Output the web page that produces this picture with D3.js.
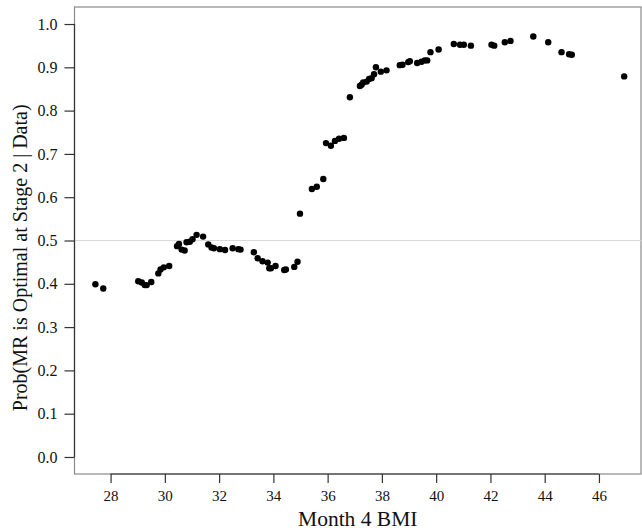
<!DOCTYPE html>
<html>
<head>
<meta charset="utf-8">
<script src="https://cdn.jsdelivr.net/npm/d3@7"></script>
<style>
  html, body { margin: 0; padding: 0; background: #fff; }
  svg text { font-family: "Liberation Serif", "DejaVu Serif", serif; fill: #111; }
</style>
</head>
<body>
<svg id="chart" width="642" height="532"></svg>
<script>
// Month 4 BMI values
const bmi = [
  27.44, 27.73, 29.02, 29.15, 29.26, 29.33, 29.50, 29.76, 29.84, 29.96,
  30.16, 30.45, 30.52, 30.62, 30.73, 30.80, 30.92, 31.02, 31.17, 31.41,
  31.60, 31.72, 31.81, 32.03, 32.22, 32.50, 32.71, 32.79, 33.28, 33.42,
  33.60, 33.79, 33.85, 33.91, 34.08, 34.40, 34.46, 34.77, 34.89, 34.98,
  35.42, 35.60, 35.84, 35.94, 36.12, 36.27, 36.42, 36.60, 36.82, 37.19,
  37.25, 37.31, 37.44, 37.53, 37.62, 37.71, 37.78, 37.96, 38.17, 38.66,
  38.76, 38.97, 39.03, 39.30, 39.46, 39.58, 39.67, 39.79, 40.09, 40.65,
  40.88, 41.02, 41.28, 42.04, 42.14, 42.53, 42.74, 43.58, 44.13, 44.62,
  44.90, 45.00, 46.93
];

// Posterior probability that MR is optimal at stage 2
const probMR = [
  0.399, 0.389, 0.406, 0.403, 0.397, 0.397, 0.404, 0.424, 0.433, 0.438,
  0.441, 0.487, 0.492, 0.479, 0.477, 0.496, 0.497, 0.503, 0.513, 0.509,
  0.491, 0.484, 0.482, 0.480, 0.478, 0.482, 0.480, 0.479, 0.473, 0.459,
  0.452, 0.449, 0.436, 0.436, 0.441, 0.432, 0.433, 0.439, 0.451, 0.562,
  0.619, 0.624, 0.642, 0.725, 0.719, 0.730, 0.735, 0.737, 0.831, 0.857,
  0.860, 0.865, 0.867, 0.873, 0.875, 0.884, 0.900, 0.890, 0.893, 0.905,
  0.906, 0.912, 0.914, 0.910, 0.913, 0.916, 0.916, 0.935, 0.941, 0.954,
  0.952, 0.952, 0.950, 0.952, 0.950, 0.958, 0.961, 0.971, 0.958, 0.935,
  0.930, 0.929, 0.879
];

const xTicks = [28, 30, 32, 34, 36, 38, 40, 42, 44, 46];
const yTicks = [0.0, 0.1, 0.2, 0.3, 0.4, 0.5, 0.6, 0.7, 0.8, 0.9, 1.0];
const refLevel = [0.5];

const serif = "'Liberation Serif', 'DejaVu Serif', serif";
const svg = d3.select("#chart");
const box = { left: 74.5, right: 641, top: 7, bottom: 474 };

const x = d3.scaleLinear().domain([26.67, 47.55]).range([box.left, box.right]);
const y = d3.scaleLinear().domain([-0.0393, 1.0393]).range([box.bottom, box.top]);

// plot frame
svg.append("rect")
  .attr("x", box.left).attr("y", box.top)
  .attr("width", box.right - box.left).attr("height", box.bottom - box.top)
  .attr("fill", "none").attr("stroke", "#8a8a8a").attr("stroke-width", 1.2);

// horizontal reference line
svg.selectAll("line.ref").data(refLevel).join("line")
  .attr("class", "ref")
  .attr("x1", box.left).attr("x2", box.right)
  .attr("y1", d => y(d)).attr("y2", d => y(d))
  .attr("stroke", "#d9d9d9").attr("stroke-width", 1.2);

// x axis
const xAxis = svg.append("g")
  .attr("transform", `translate(0,${box.bottom})`)
  .call(d3.axisBottom(x).tickValues(xTicks).tickFormat(d3.format("d"))
    .tickSizeInner(9).tickSizeOuter(0).tickPadding(7));
xAxis.attr("font-family", serif).attr("font-size", 15);
xAxis.select(".domain")
  .attr("d", `M${x(xTicks[0])},0H${x(xTicks[xTicks.length - 1])}`)
  .attr("stroke", "#333").attr("stroke-width", 1.2);
xAxis.selectAll(".tick line").attr("stroke", "#333").attr("stroke-width", 1.2);
xAxis.selectAll(".tick text").attr("fill", "#111")
  .style("font-family", serif).style("font-size", "15px");

// y axis
const yAxis = svg.append("g")
  .attr("transform", `translate(${box.left},0)`)
  .call(d3.axisLeft(y).tickValues(yTicks).tickFormat(d3.format(".1f"))
    .tickSizeInner(10).tickSizeOuter(0).tickPadding(7));
yAxis.attr("font-family", serif).attr("font-size", 16);
yAxis.select(".domain")
  .attr("d", `M0,${y(yTicks[0])}V${y(yTicks[yTicks.length - 1])}`)
  .attr("stroke", "#333").attr("stroke-width", 1.2);
yAxis.selectAll(".tick line").attr("stroke", "#333").attr("stroke-width", 1.2);
yAxis.selectAll(".tick text").attr("fill", "#111")
  .style("font-family", serif).style("font-size", "16px");

// points
svg.append("g").selectAll("circle")
  .data(bmi.map((b, i) => [b, probMR[i]]))
  .join("circle")
  .attr("cx", d => x(d[0]))
  .attr("cy", d => y(d[1]))
  .attr("r", 3.2)
  .attr("fill", "#000");

// axis titles
svg.append("text")
  .attr("x", (box.left + box.right) / 2).attr("y", 526)
  .attr("text-anchor", "middle").attr("font-size", 21.5)
  .text("Month 4 BMI");

svg.append("text")
  .attr("transform", `translate(27,${y(0.46)}) rotate(-90)`)
  .attr("text-anchor", "middle").attr("font-size", 20)
  .text("Prob(MR is Optimal at Stage 2 | Data)");
</script>
</body>
</html>
